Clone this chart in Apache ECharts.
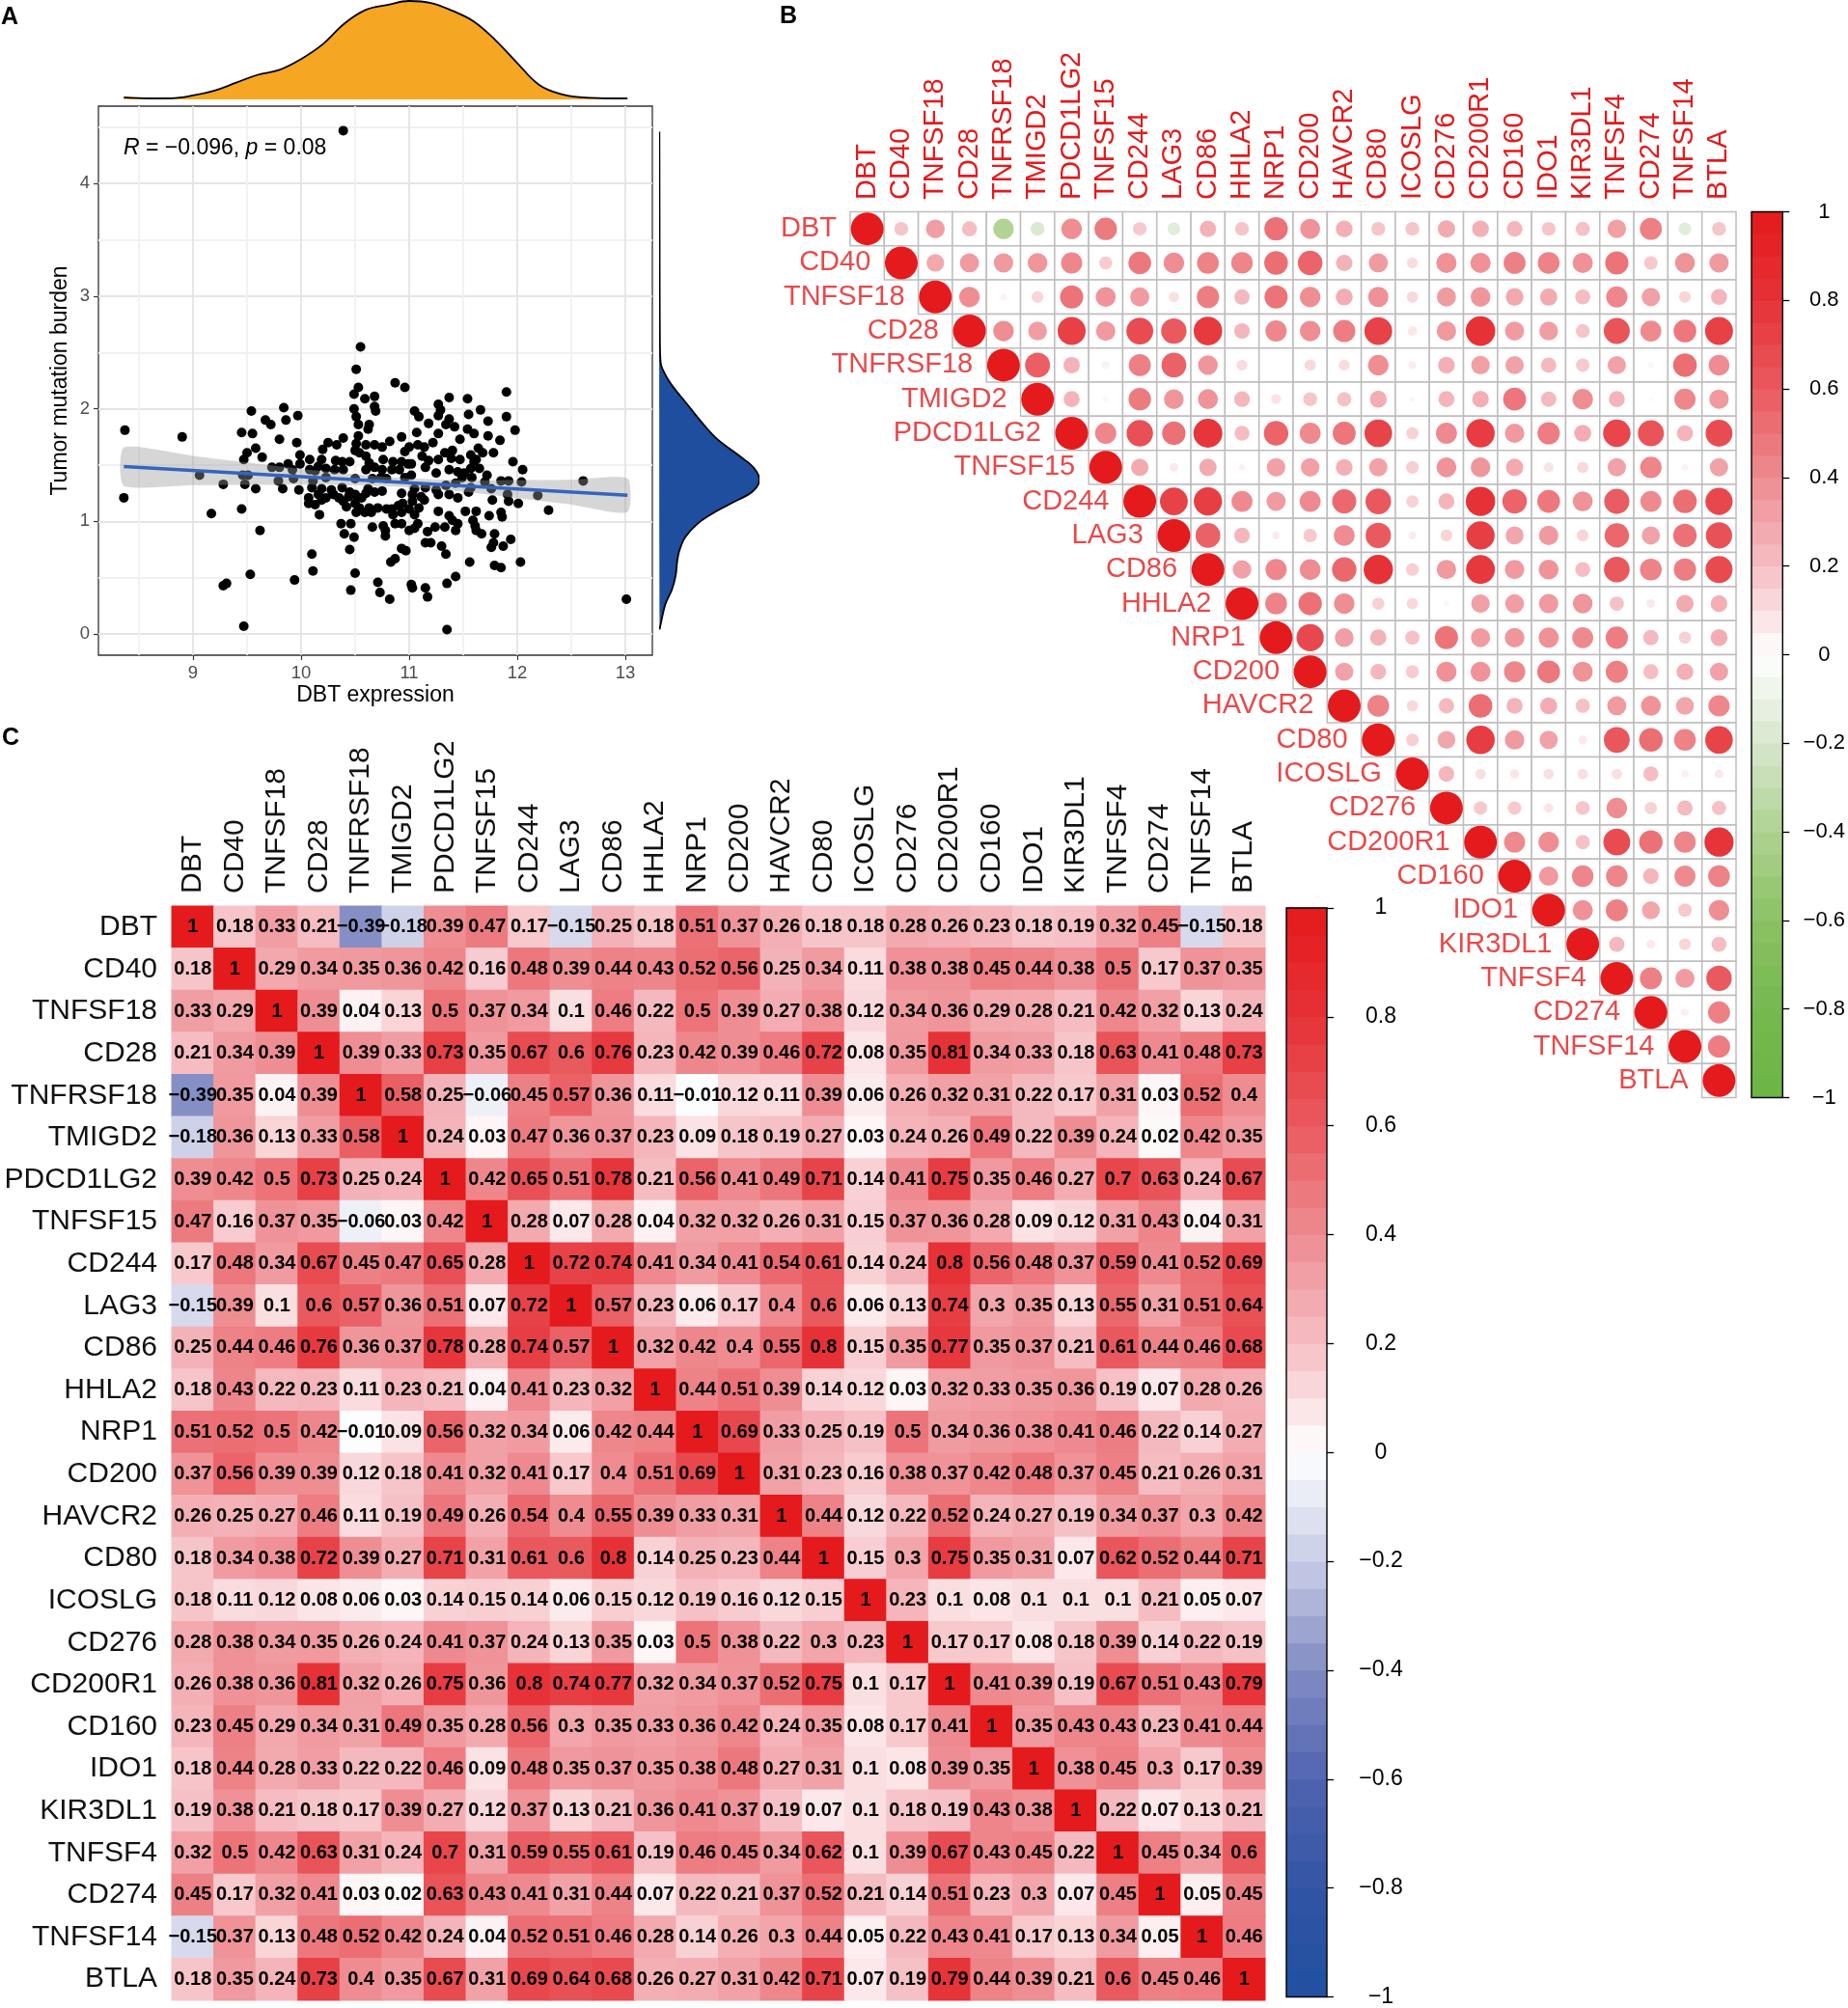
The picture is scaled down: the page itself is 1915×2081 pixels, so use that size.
<!DOCTYPE html>
<html>
<head>
<meta charset="utf-8">
<title>DBT and immune checkpoint genes</title>
<script src="https://cdn.jsdelivr.net/npm/echarts@6/dist/echarts.min.js"></script>
<style>
  html, body { margin: 0; padding: 0; background: #fff; }
  #chart { width: 1915px; height: 2081px; }
</style>
</head>
<body>
<div id="chart"></div>
<script>
// ---------- data ----------
const genes = ['DBT', 'CD40', 'TNFSF18', 'CD28', 'TNFRSF18', 'TMIGD2', 'PDCD1LG2', 'TNFSF15',
  'CD244', 'LAG3', 'CD86', 'HHLA2', 'NRP1', 'CD200', 'HAVCR2', 'CD80', 'ICOSLG', 'CD276',
  'CD200R1', 'CD160', 'IDO1', 'KIR3DL1', 'TNFSF4', 'CD274', 'TNFSF14', 'BTLA'];

// correlation matrix, one row per gene (same order as genes)
const corr = [
  [1, 0.18, 0.33, 0.21, -0.39, -0.18, 0.39, 0.47, 0.17, -0.15, 0.25, 0.18, 0.51, 0.37, 0.26, 0.18, 0.18, 0.28, 0.26, 0.23, 0.18, 0.19, 0.32, 0.45, -0.15, 0.18],
  [0.18, 1, 0.29, 0.34, 0.35, 0.36, 0.42, 0.16, 0.48, 0.39, 0.44, 0.43, 0.52, 0.56, 0.25, 0.34, 0.11, 0.38, 0.38, 0.45, 0.44, 0.38, 0.5, 0.17, 0.37, 0.35],
  [0.33, 0.29, 1, 0.39, 0.04, 0.13, 0.5, 0.37, 0.34, 0.1, 0.46, 0.22, 0.5, 0.39, 0.27, 0.38, 0.12, 0.34, 0.36, 0.29, 0.28, 0.21, 0.42, 0.32, 0.13, 0.24],
  [0.21, 0.34, 0.39, 1, 0.39, 0.33, 0.73, 0.35, 0.67, 0.6, 0.76, 0.23, 0.42, 0.39, 0.46, 0.72, 0.08, 0.35, 0.81, 0.34, 0.33, 0.18, 0.63, 0.41, 0.48, 0.73],
  [-0.39, 0.35, 0.04, 0.39, 1, 0.58, 0.25, -0.06, 0.45, 0.57, 0.36, 0.11, -0.01, 0.12, 0.11, 0.39, 0.06, 0.26, 0.32, 0.31, 0.22, 0.17, 0.31, 0.03, 0.52, 0.4],
  [-0.18, 0.36, 0.13, 0.33, 0.58, 1, 0.24, 0.03, 0.47, 0.36, 0.37, 0.23, 0.09, 0.18, 0.19, 0.27, 0.03, 0.24, 0.26, 0.49, 0.22, 0.39, 0.24, 0.02, 0.42, 0.35],
  [0.39, 0.42, 0.5, 0.73, 0.25, 0.24, 1, 0.42, 0.65, 0.51, 0.78, 0.21, 0.56, 0.41, 0.49, 0.71, 0.14, 0.41, 0.75, 0.35, 0.46, 0.27, 0.7, 0.63, 0.24, 0.67],
  [0.47, 0.16, 0.37, 0.35, -0.06, 0.03, 0.42, 1, 0.28, 0.07, 0.28, 0.04, 0.32, 0.32, 0.26, 0.31, 0.15, 0.37, 0.36, 0.28, 0.09, 0.12, 0.31, 0.43, 0.04, 0.31],
  [0.17, 0.48, 0.34, 0.67, 0.45, 0.47, 0.65, 0.28, 1, 0.72, 0.74, 0.41, 0.34, 0.41, 0.54, 0.61, 0.14, 0.24, 0.8, 0.56, 0.48, 0.37, 0.59, 0.41, 0.52, 0.69],
  [-0.15, 0.39, 0.1, 0.6, 0.57, 0.36, 0.51, 0.07, 0.72, 1, 0.57, 0.23, 0.06, 0.17, 0.4, 0.6, 0.06, 0.13, 0.74, 0.3, 0.35, 0.13, 0.55, 0.31, 0.51, 0.64],
  [0.25, 0.44, 0.46, 0.76, 0.36, 0.37, 0.78, 0.28, 0.74, 0.57, 1, 0.32, 0.42, 0.4, 0.55, 0.8, 0.15, 0.35, 0.77, 0.35, 0.37, 0.21, 0.61, 0.44, 0.46, 0.68],
  [0.18, 0.43, 0.22, 0.23, 0.11, 0.23, 0.21, 0.04, 0.41, 0.23, 0.32, 1, 0.44, 0.51, 0.39, 0.14, 0.12, 0.03, 0.32, 0.33, 0.35, 0.36, 0.19, 0.07, 0.28, 0.26],
  [0.51, 0.52, 0.5, 0.42, -0.01, 0.09, 0.56, 0.32, 0.34, 0.06, 0.42, 0.44, 1, 0.69, 0.33, 0.25, 0.19, 0.5, 0.34, 0.36, 0.38, 0.41, 0.46, 0.22, 0.14, 0.27],
  [0.37, 0.56, 0.39, 0.39, 0.12, 0.18, 0.41, 0.32, 0.41, 0.17, 0.4, 0.51, 0.69, 1, 0.31, 0.23, 0.16, 0.38, 0.37, 0.42, 0.48, 0.37, 0.45, 0.21, 0.26, 0.31],
  [0.26, 0.25, 0.27, 0.46, 0.11, 0.19, 0.49, 0.26, 0.54, 0.4, 0.55, 0.39, 0.33, 0.31, 1, 0.44, 0.12, 0.22, 0.52, 0.24, 0.27, 0.19, 0.34, 0.37, 0.3, 0.42],
  [0.18, 0.34, 0.38, 0.72, 0.39, 0.27, 0.71, 0.31, 0.61, 0.6, 0.8, 0.14, 0.25, 0.23, 0.44, 1, 0.15, 0.3, 0.75, 0.35, 0.31, 0.07, 0.62, 0.52, 0.44, 0.71],
  [0.18, 0.11, 0.12, 0.08, 0.06, 0.03, 0.14, 0.15, 0.14, 0.06, 0.15, 0.12, 0.19, 0.16, 0.12, 0.15, 1, 0.23, 0.1, 0.08, 0.1, 0.1, 0.1, 0.21, 0.05, 0.07],
  [0.28, 0.38, 0.34, 0.35, 0.26, 0.24, 0.41, 0.37, 0.24, 0.13, 0.35, 0.03, 0.5, 0.38, 0.22, 0.3, 0.23, 1, 0.17, 0.17, 0.08, 0.18, 0.39, 0.14, 0.22, 0.19],
  [0.26, 0.38, 0.36, 0.81, 0.32, 0.26, 0.75, 0.36, 0.8, 0.74, 0.77, 0.32, 0.34, 0.37, 0.52, 0.75, 0.1, 0.17, 1, 0.41, 0.39, 0.19, 0.67, 0.51, 0.43, 0.79],
  [0.23, 0.45, 0.29, 0.34, 0.31, 0.49, 0.35, 0.28, 0.56, 0.3, 0.35, 0.33, 0.36, 0.42, 0.24, 0.35, 0.08, 0.17, 0.41, 1, 0.35, 0.43, 0.43, 0.23, 0.41, 0.44],
  [0.18, 0.44, 0.28, 0.33, 0.22, 0.22, 0.46, 0.09, 0.48, 0.35, 0.37, 0.35, 0.38, 0.48, 0.27, 0.31, 0.1, 0.08, 0.39, 0.35, 1, 0.38, 0.45, 0.3, 0.17, 0.39],
  [0.19, 0.38, 0.21, 0.18, 0.17, 0.39, 0.27, 0.12, 0.37, 0.13, 0.21, 0.36, 0.41, 0.37, 0.19, 0.07, 0.1, 0.18, 0.19, 0.43, 0.38, 1, 0.22, 0.07, 0.13, 0.21],
  [0.32, 0.5, 0.42, 0.63, 0.31, 0.24, 0.7, 0.31, 0.59, 0.55, 0.61, 0.19, 0.46, 0.45, 0.34, 0.62, 0.1, 0.39, 0.67, 0.43, 0.45, 0.22, 1, 0.45, 0.34, 0.6],
  [0.45, 0.17, 0.32, 0.41, 0.03, 0.02, 0.63, 0.43, 0.41, 0.31, 0.44, 0.07, 0.22, 0.21, 0.37, 0.52, 0.21, 0.14, 0.51, 0.23, 0.3, 0.07, 0.45, 1, 0.05, 0.45],
  [-0.15, 0.37, 0.13, 0.48, 0.52, 0.42, 0.24, 0.04, 0.52, 0.51, 0.46, 0.28, 0.14, 0.26, 0.3, 0.44, 0.05, 0.22, 0.43, 0.41, 0.17, 0.13, 0.34, 0.05, 1, 0.46],
  [0.18, 0.35, 0.24, 0.73, 0.4, 0.35, 0.67, 0.31, 0.69, 0.64, 0.68, 0.26, 0.27, 0.31, 0.42, 0.71, 0.07, 0.19, 0.79, 0.44, 0.39, 0.21, 0.6, 0.45, 0.46, 1]
];

// panel A: [DBT expression, tumor mutation burden]
const tmbPoints = [
  [8.37, 1.81], [8.36, 1.21], [8.9, 1.75], [9.06, 1.41], [9.17, 1.07], [9.28, 1.33], [9.28, 0.43], [9.31, 0.45],
  [9.47, 0.07], [9.45, 1.79], [9.54, 1.98], [9.55, 1.78], [9.45, 1.11], [9.5, 1.61], [9.47, 1.55], [9.58, 1.65],
  [9.64, 1.57], [9.46, 1.41], [9.51, 1.41], [9.48, 1.33], [9.58, 1.29], [9.62, 0.92], [9.53, 0.53], [9.67, 1.9],
  [9.94, 0.48], [10.11, 0.56], [10.46, 0.39], [10.5, 0.54], [10.55, 2.55], [10.71, 0.46], [10.73, 0.37], [10.82, 0.31],
  [10.83, 0.64], [11.02, 0.44], [11.03, 0.41], [11.15, 0.41], [11.17, 0.33], [11.35, 0.04], [11.35, 0.45], [11.43, 0.51],
  [11.56, 0.64], [11.79, 0.61], [11.85, 0.59], [12.03, 0.64], [12.61, 1.36], [13.01, 0.31], [10.39, 4.47],
  [10.51, 2.35], [10.87, 2.23], [10.96, 2.19], [10.53, 2.19], [10.49, 2.13], [10.59, 2.09], [10.68, 2.11], [10.68, 2.02],
  [10.69, 1.98], [10.49, 2.0], [9.84, 2.01], [9.97, 1.94], [9.86, 1.9], [9.72, 1.86], [10.51, 1.93], [10.53, 1.86],
  [10.63, 1.86], [10.62, 1.82], [10.93, 1.75], [10.39, 1.74], [9.8, 1.73], [9.96, 1.7], [10.25, 1.7], [10.2, 1.64],
  [10.33, 1.68], [10.53, 1.76], [10.51, 1.69], [10.6, 1.68], [10.68, 1.68], [10.75, 1.66], [10.82, 1.71], [10.5, 1.63],
  [10.54, 1.61], [10.96, 1.62], [10.6, 1.58], [9.99, 1.59], [9.99, 1.51], [10.08, 1.55], [10.19, 1.55], [10.16, 1.49],
  [10.32, 1.54], [10.38, 1.53], [10.45, 1.53], [10.63, 1.52], [10.76, 1.55], [10.85, 1.53], [10.93, 1.53], [10.99, 1.51],
  [9.73, 1.48], [9.8, 1.48], [9.88, 1.51], [9.92, 1.46], [10.08, 1.46], [10.13, 1.45], [10.23, 1.47], [10.31, 1.46],
  [10.39, 1.46], [10.6, 1.46], [10.68, 1.48], [10.75, 1.46], [10.84, 1.46], [10.91, 1.46], [9.79, 1.36], [9.93, 1.38],
  [10.11, 1.36], [10.23, 1.39], [10.5, 1.38], [10.66, 1.38], [10.74, 1.39], [10.79, 1.38], [10.96, 1.39], [9.83, 1.29],
  [9.98, 1.28], [10.1, 1.3], [10.19, 1.29], [10.28, 1.28], [10.38, 1.3], [10.45, 1.26], [10.62, 1.29], [10.68, 1.26],
  [10.75, 1.27], [10.93, 1.25], [10.07, 1.21], [10.16, 1.24], [10.23, 1.21], [10.3, 1.24], [10.35, 1.21], [10.44, 1.22],
  [10.5, 1.24], [10.56, 1.21], [10.6, 1.25], [10.07, 1.16], [10.13, 1.15], [10.19, 1.19], [10.39, 1.18], [10.5, 1.16],
  [10.54, 1.12], [10.59, 1.08], [10.63, 1.12], [10.71, 1.12], [10.79, 1.11], [10.84, 1.11], [10.9, 1.14], [10.94, 1.16],
  [10.17, 1.06], [10.42, 1.13], [10.51, 1.08], [10.65, 1.08], [10.85, 1.06], [10.93, 1.08], [10.37, 0.98], [10.46, 0.98],
  [10.66, 0.95], [10.76, 0.96], [10.78, 0.92], [10.87, 0.98], [10.93, 0.98], [10.4, 0.89], [10.49, 0.86], [10.78, 0.87],
  [10.45, 0.75], [10.1, 0.71], [10.93, 0.76], [10.97, 0.74], [10.87, 0.67],
  [11.9, 2.15], [11.37, 2.1], [11.54, 2.09], [11.27, 2.04], [11.29, 1.99], [11.05, 1.98], [11.09, 1.93], [11.27, 1.94],
  [11.37, 1.91], [11.34, 1.86], [11.42, 1.84], [11.55, 1.95], [11.66, 1.99], [11.73, 1.89], [11.9, 1.93], [11.98, 1.81],
  [11.18, 1.87], [11.07, 1.79], [11.27, 1.78], [11.54, 1.82], [11.6, 1.78], [11.47, 1.73], [11.73, 1.76], [11.84, 1.72],
  [11.22, 1.7], [11.0, 1.66], [11.08, 1.68], [11.14, 1.66], [11.33, 1.61], [11.4, 1.63], [11.64, 1.65], [11.68, 1.61],
  [11.78, 1.61], [11.57, 1.59], [11.12, 1.58], [11.18, 1.54], [11.27, 1.55], [11.39, 1.56], [11.47, 1.55], [11.6, 1.53],
  [11.62, 1.55], [11.96, 1.53], [11.02, 1.51], [11.15, 1.48], [11.37, 1.46], [11.45, 1.44], [11.51, 1.43], [11.57, 1.47],
  [11.65, 1.47], [11.25, 1.43], [12.05, 1.46], [11.02, 1.41], [11.72, 1.41], [11.49, 1.39], [11.58, 1.39], [11.7, 1.35],
  [11.85, 1.36], [11.92, 1.36], [12.04, 1.35], [11.34, 1.32], [11.43, 1.34], [11.57, 1.3], [11.76, 1.29], [11.05, 1.29],
  [11.15, 1.3], [11.25, 1.28], [11.03, 1.24], [11.11, 1.22], [11.27, 1.24], [11.37, 1.24], [11.55, 1.26], [11.91, 1.24],
  [12.19, 1.23], [11.03, 1.18], [11.14, 1.19], [11.45, 1.21], [11.77, 1.19], [11.92, 1.18], [12.01, 1.16], [11.0, 1.11],
  [11.09, 1.12], [11.27, 1.09], [11.52, 1.09], [11.62, 1.09], [11.85, 1.08], [12.29, 1.1], [11.05, 1.06], [11.37, 1.05],
  [11.74, 1.05], [11.86, 1.04], [11.08, 0.98], [11.4, 1.01], [11.45, 0.98], [11.59, 1.01], [11.61, 0.96], [11.0, 0.92],
  [11.05, 0.94], [11.33, 0.95], [11.43, 0.92], [11.24, 0.95], [11.67, 0.89], [11.79, 0.89], [11.17, 0.91], [11.62, 0.92],
  [11.94, 0.84], [11.78, 0.81], [11.87, 0.78], [11.15, 0.81], [11.2, 0.81], [11.3, 0.78], [11.76, 0.77], [11.34, 0.71]
];

// linear fit and its confidence band
const fitX = [8.36, 13.02];
const fitY = [1.487, 1.232];
const bandX = [8.36, 9.0, 9.5, 10.0, 10.5, 11.0, 11.5, 12.0, 12.5, 13.02];
const bandLo = [1.317, 1.322, 1.324, 1.327, 1.320, 1.302, 1.265, 1.207, 1.150, 1.082];
const bandHi = [1.657, 1.582, 1.524, 1.467, 1.420, 1.382, 1.365, 1.367, 1.370, 1.382];

// marginal densities (scaled to peak = 1)
const topDensX = [8.36, 8.6, 8.8, 9.0, 9.2, 9.4, 9.6, 9.8, 10.0, 10.2, 10.4, 10.6, 10.8, 11.0, 11.2, 11.4, 11.6, 11.8, 12.0, 12.2, 12.4, 12.6, 12.8, 13.02];
const topDensH = [0.02, 0.01, 0.012, 0.04, 0.09, 0.17, 0.25, 0.30, 0.41, 0.56, 0.77, 0.91, 0.96, 1.0, 0.98, 0.90, 0.79, 0.60, 0.37, 0.15, 0.055, 0.02, 0.012, 0.01];
const sideDensY = [4.46, 4.0, 3.5, 3.0, 2.6, 2.45, 2.38, 2.29, 2.2, 2.04, 1.885, 1.73, 1.575, 1.48, 1.37, 1.265, 1.17, 1.08, 0.985, 0.86, 0.735, 0.645, 0.52, 0.395, 0.27, 0.115, 0.04];
const sideDensH = [0.003, 0.004, 0.005, 0.006, 0.008, 0.012, 0.022, 0.07, 0.135, 0.28, 0.42, 0.58, 0.81, 0.94, 1.0, 0.93, 0.74, 0.55, 0.39, 0.26, 0.2, 0.18, 0.165, 0.128, 0.064, 0.022, 0.005];

// tick labels and grid-line positions of panel A
const xTicks = [9, 10, 11, 12, 13];
const yTicks = [0, 1, 2, 3, 4];
const xGridAt = [8.5, 9, 9.5, 10, 10.5, 11, 11.5, 12, 12.5, 13];
const yGridAt = [0, 0.5, 1, 1.5, 2, 2.5, 3, 3.5, 4, 4.5];

// ---------- styles ----------
const FONT = 'Liberation Sans, Arial, Helvetica, sans-serif';
const RED = '#e31a1c';
const blueRed = ['#2150a0', '#3255a5', '#5064af', '#828cc3', '#c8cde6', '#ffffff', '#f5bec3', '#ee8c91', '#e95a5f', '#e63237', '#e41a1c'];
const greenRed = ['#6cb444', '#76b84e', '#8cc264', '#afd291', '#d7e6cd', '#ffffff', '#f5bec3', '#ee8c91', '#e95a5f', '#e63237', '#e41a1c'];
const MAJOR = '#e4e4e4', MINOR = '#f1f1f1';

function hexRgb(h) {
  return [1, 3, 5].map(i => parseInt(h.slice(i, i + 2), 16));
}
function ramp(stops, v) {
  const n = stops.length - 1;
  const t = (Math.max(-1, Math.min(1, v)) + 1) / 2 * n;
  const i = Math.min(Math.floor(t), n - 1);
  const f = t - i;
  const a = hexRgb(stops[i]), b = hexRgb(stops[i + 1]);
  const c = a.map((x, k) => Math.round(x + (b[k] - x) * f));
  return 'rgb(' + c.join(',') + ')';
}
function fmtCorr(v) {
  return String(v).replace('-', '\u2212');
}
function fmtScale(v) {
  const r = Math.round(v * 10) / 10;
  return r === 0 ? '0' : String(r).replace('-', '\u2212');
}

// ---------- derived series data ----------
const upperCells = [];
const allCells = [];
for (let i = 0; i < genes.length; i++) {
  for (let j = 0; j < genes.length; j++) {
    allCells.push([j, i, corr[i][j]]);
    if (j >= i) upperCells.push([j, i, corr[i][j]]);
  }
}
const diagCells = genes.map((g, i) => [i, i]);
const topCells = genes.map((g, i) => [i, 0]);
const scaleBands = [];
for (let k = 0; k < 40; k++) scaleBands.push([-1 + k * 0.05, -1 + (k + 1) * 0.05]);

function rectItem(api, fill, stroke, lw, pad) {
  const c = api.coord([api.value(0), api.value(1)]);
  const s = api.size([1, 1]);
  return {
    type: 'rect',
    shape: { x: c[0] - s[0] / 2 - pad, y: c[1] - s[1] / 2 - pad, width: s[0] + 2 * pad, height: s[1] + 2 * pad },
    style: { fill: fill, stroke: stroke, lineWidth: lw }
  };
}

// vertical column labels above a matrix, reading bottom to top
function columnLabels(axisIdx, gap, size, color) {
  return {
    type: 'custom', xAxisIndex: axisIdx, yAxisIndex: axisIdx, z: 5, silent: true,
    data: topCells,
    renderItem: (params, api) => {
      const c = api.coord([api.value(0), 0]);
      const s = api.size([1, 1]);
      return {
        type: 'text', x: c[0], y: c[1] - s[1] / 2 - gap, rotation: Math.PI / 2,
        style: {
          text: genes[params.dataIndex], font: size + 'px ' + FONT, fill: color,
          align: 'left', verticalAlign: 'middle', textAlign: 'left', textVerticalAlign: 'middle'
        }
      };
    }
  };
}

function scaleSeries(axisIdx, stops) {
  return [{
    type: 'custom', xAxisIndex: axisIdx, yAxisIndex: axisIdx, z: 2,
    data: scaleBands,
    renderItem: (params, api) => {
      const lo = api.value(0), hi = api.value(1);
      const p1 = api.coord([0, hi]);
      const p2 = api.coord([1, lo]);
      return {
        type: 'rect',
        shape: { x: p1[0], y: p1[1] - 0.4, width: p2[0] - p1[0], height: p2[1] - p1[1] + 0.8 },
        style: { fill: ramp(stops, (lo + hi) / 2) }
      };
    }
  }, {
    type: 'custom', xAxisIndex: axisIdx, yAxisIndex: axisIdx, z: 3,
    data: [[0, 0]],
    renderItem: (params, api) => {
      const p1 = api.coord([0, 1]);
      const p2 = api.coord([1, -1]);
      return {
        type: 'rect',
        shape: { x: p1[0], y: p1[1], width: p2[0] - p1[0], height: p2[1] - p1[1] },
        style: { fill: null, stroke: '#000', lineWidth: 1.4 }
      };
    }
  }];
}

function scaleAxis(grid, margin, size) {
  return {
    gridIndex: grid, type: 'value', min: -1, max: 1, interval: 0.2, position: 'right',
    axisLine: { show: false, onZero: false },
    axisTick: { show: true, length: 7, lineStyle: { color: '#000', width: 1.3 } },
    axisLabel: { align: 'center', margin: margin, fontSize: size, color: '#000', fontFamily: FONT, formatter: fmtScale },
    splitLine: { show: false }
  };
}

const intLabel = v => (Math.abs(v - Math.round(v)) < 1e-6 ? String(Math.round(v)) : '');

const chart = echarts.init(document.getElementById('chart'), null, { renderer: 'canvas' });

const option = {
  backgroundColor: '#fff',
  animation: false,
  grid: [
    { left: 102, top: 110, width: 574, height: 569, show: true, borderColor: '#333', borderWidth: 1.3, backgroundColor: '#fff' },
    { left: 102, top: 1, width: 574, height: 102 },
    { left: 683, top: 110, width: 104, height: 569 },
    { left: 881, top: 219.5, width: 918, height: 918 },
    { left: 1815, top: 219.5, width: 34, height: 918 },
    { left: 178, top: 939, width: 1133, height: 1134 },
    { left: 1333, top: 941, width: 42, height: 1130 }
  ],
  xAxis: [
    // 0: panel A grid lines
    {
      gridIndex: 0, type: 'value', min: 8.125, max: 13.25, position: 'bottom',
      axisLine: { show: false, onZero: false },
      axisTick: { show: true, customValues: xGridAt, length: 0, lineStyle: { color: 'rgba(0,0,0,0)' } },
      axisLabel: { show: false },
      splitLine: { show: true, lineStyle: { color: [MINOR, MAJOR], width: 1.8 } }
    },
    { gridIndex: 1, type: 'value', min: 8.125, max: 13.25, show: false },
    { gridIndex: 2, type: 'value', min: 0, max: 1, show: false },
    { gridIndex: 3, type: 'category', data: genes, position: 'top', show: false },
    { gridIndex: 4, type: 'value', min: 0, max: 1, show: false },
    { gridIndex: 5, type: 'category', data: genes, position: 'top', show: false },
    { gridIndex: 6, type: 'value', min: 0, max: 1, show: false },
    // 7: panel A ticks, labels and title
    {
      gridIndex: 0, type: 'value', min: 8.125, max: 13.25, position: 'bottom',
      name: 'DBT expression', nameLocation: 'middle', nameGap: 30,
      nameTextStyle: { fontSize: 23, color: '#000', fontFamily: FONT },
      axisLine: { show: false, onZero: false },
      axisTick: { show: true, customValues: xTicks, length: 5, lineStyle: { color: '#333', width: 1.2 } },
      axisLabel: { customValues: xTicks, fontSize: 18.5, color: '#4d4d4d', margin: 9, fontFamily: FONT, formatter: intLabel },
      splitLine: { show: false }
    }
  ],
  yAxis: [
    {
      gridIndex: 0, type: 'value', min: -0.1875, max: 4.6875, position: 'left',
      axisLine: { show: false, onZero: false },
      axisTick: { show: true, customValues: yGridAt, length: 0, lineStyle: { color: 'rgba(0,0,0,0)' } },
      axisLabel: { show: false },
      splitLine: { show: true, lineStyle: { color: [MAJOR, MINOR], width: 1.8 } }
    },
    { gridIndex: 1, type: 'value', min: 0, max: 1, show: false },
    { gridIndex: 2, type: 'value', min: -0.1875, max: 4.6875, show: false },
    { gridIndex: 3, type: 'category', data: genes, inverse: true, show: false },
    scaleAxis(4, 43, 22),
    {
      gridIndex: 5, type: 'category', data: genes, inverse: true,
      axisLine: { show: false }, axisTick: { show: false }, splitLine: { show: false },
      axisLabel: { interval: 0, margin: 15, fontSize: 30, color: '#111', fontFamily: FONT }
    },
    scaleAxis(6, 56, 23),
    {
      gridIndex: 0, type: 'value', min: -0.1875, max: 4.6875, position: 'left',
      name: 'Tumor mutation burden', nameLocation: 'middle', nameGap: 28,
      nameTextStyle: { fontSize: 23, color: '#000', fontFamily: FONT },
      axisLine: { show: false, onZero: false },
      axisTick: { show: true, customValues: yTicks, length: 5, lineStyle: { color: '#333', width: 1.2 } },
      axisLabel: { customValues: yTicks, fontSize: 18.5, color: '#4d4d4d', margin: 9, fontFamily: FONT, formatter: intLabel },
      splitLine: { show: false }
    }
  ],
  graphic: [
    { type: 'text', x: 1, y: 18, style: { text: 'A', font: 'bold 25px ' + FONT, fill: '#000', verticalAlign: 'middle', textVerticalAlign: 'middle' } },
    { type: 'text', x: 808, y: 17, style: { text: 'B', font: 'bold 25px ' + FONT, fill: '#000', verticalAlign: 'middle', textVerticalAlign: 'middle' } },
    { type: 'text', x: 2, y: 765, style: { text: 'C', font: 'bold 25px ' + FONT, fill: '#000', verticalAlign: 'middle', textVerticalAlign: 'middle' } },
    {
      type: 'text', x: 128, y: 154, z: 10,
      style: {
        text: '{i|R} = \u22120.096, {i|p} = 0.08',
        font: '23px ' + FONT, fill: '#000', verticalAlign: 'middle', textVerticalAlign: 'middle',
        rich: { i: { fontStyle: 'italic', fontSize: 23, fontFamily: FONT } }
      }
    }
  ],
  series: [
    // panel A
    {
      type: 'scatter', xAxisIndex: 0, yAxisIndex: 0, z: 2,
      data: tmbPoints, symbolSize: 10, itemStyle: { color: '#000', opacity: 1 }
    },
    {
      type: 'custom', xAxisIndex: 0, yAxisIndex: 0, z: 3, clip: true,
      data: bandX.map((x, i) => [x, bandHi[i]]),
      renderItem: (params, api) => {
        if (params.dataIndex !== 0) return null;
        const up = bandX.map((x, i) => api.coord([x, bandHi[i]]));
        const dn = bandX.map((x, i) => api.coord([x, bandLo[i]])).reverse();
        return { type: 'polygon', shape: { points: up.concat(dn), smooth: 0.2 }, style: { fill: 'rgba(153,153,153,0.4)' } };
      }
    },
    {
      type: 'line', xAxisIndex: 0, yAxisIndex: 0, z: 4,
      data: fitX.map((x, i) => [x, fitY[i]]), symbol: 'none',
      lineStyle: { color: '#3465be', width: 3.6 }
    },
    {
      type: 'line', xAxisIndex: 1, yAxisIndex: 1, z: 2,
      data: topDensX.map((x, i) => [x, topDensH[i]]), symbol: 'none', smooth: 0.4,
      lineStyle: { color: '#000', width: 1.8 },
      areaStyle: { color: '#f5a623', opacity: 1 }
    },
    {
      type: 'custom', xAxisIndex: 2, yAxisIndex: 2, z: 2, clip: true,
      data: sideDensY.map((y, i) => [sideDensH[i], y]),
      renderItem: (params, api) => {
        if (params.dataIndex !== 0) return null;
        const pts = sideDensY.map((y, i) => api.coord([sideDensH[i], y]));
        return {
          type: 'group',
          children: [
            { type: 'polygon', shape: { points: pts, smooth: 0.35 }, style: { fill: '#1f4e9f' } },
            { type: 'polyline', shape: { points: pts, smooth: 0.35 }, style: { fill: null, stroke: '#000', lineWidth: 1.8 } }
          ]
        };
      }
    },
    // panel B
    {
      type: 'custom', xAxisIndex: 3, yAxisIndex: 3, z: 1,
      data: upperCells,
      renderItem: (params, api) => rectItem(api, '#fff', '#bdbdbd', 1.5, 0)
    },
    {
      type: 'scatter', xAxisIndex: 3, yAxisIndex: 3, z: 3,
      data: upperCells,
      symbolSize: v => 34 * Math.sqrt(Math.abs(v[2])),
      itemStyle: { color: p => ramp(greenRed, p.value[2]), opacity: 1 }
    },
    {
      type: 'scatter', xAxisIndex: 3, yAxisIndex: 3, z: 4,
      data: diagCells, symbolSize: 35.3, itemStyle: { color: 'rgba(0,0,0,0)' }, silent: true,
      label: {
        show: true, position: 'left', distance: 14,
        formatter: p => genes[p.dataIndex], color: RED, fontSize: 29, fontFamily: FONT
      }
    },
    columnLabels(3, 12.5, 29, RED),
    ...scaleSeries(4, greenRed),
    // panel C
    {
      type: 'custom', xAxisIndex: 5, yAxisIndex: 5, z: 1,
      data: allCells,
      renderItem: (params, api) => rectItem(api, ramp(blueRed, api.value(2)), null, 0, 0.5)
    },
    {
      type: 'custom', xAxisIndex: 5, yAxisIndex: 5, z: 3,
      data: allCells,
      renderItem: (params, api) => {
        const c = api.coord([api.value(0), api.value(1)]);
        return {
          type: 'text', x: c[0], y: c[1],
          style: {
            text: fmtCorr(api.value(2)), font: 'bold 20px ' + FONT, fill: '#000',
            align: 'center', verticalAlign: 'middle', textAlign: 'center', textVerticalAlign: 'middle'
          }
        };
      }
    },
    columnLabels(5, 13, 30, '#111'),
    ...scaleSeries(6, blueRed)
  ]
};

chart.setOption(option);
</script>
</body>
</html>
